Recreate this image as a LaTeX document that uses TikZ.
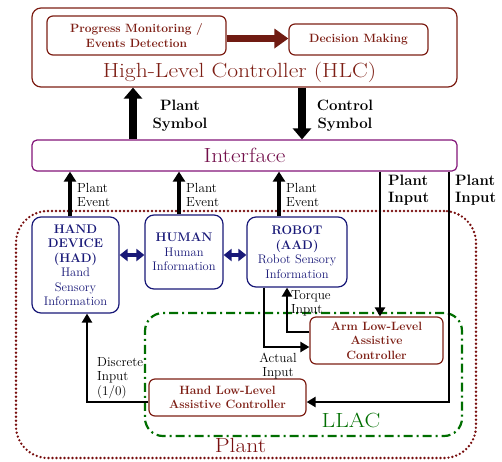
\documentclass[tikz,border=0pt]{standalone}
\usepackage{graphicx}
\usetikzlibrary{arrows.meta}
\definecolor{hlcred}{RGB}{125,30,20}
\definecolor{ifpurple}{RGB}{130,20,120}
\definecolor{iftext}{RGB}{115,15,75}
\definecolor{agentblue}{RGB}{25,25,120}
\definecolor{llacgreen}{RGB}{0,110,0}
\definecolor{plantred}{RGB}{120,15,15}
\newcommand{\widen}[1]{\scalebox{1.15}[1]{#1}}
\begin{document}
\begin{tikzpicture}[x=1pt,y=-1pt]
    \tikzset{ctrlbox/.style={draw=hlcred, line width=1.2pt, rounded corners=6pt, inner sep=0pt, text=hlcred, align=center, font=\fontsize{12}{14.5}\selectfont\bfseries}}
    \tikzset{agentbox/.style={draw=agentblue, line width=1.2pt, rounded corners=9pt, inner sep=0pt, text=agentblue, align=center, font=\fontsize{12.5}{14.5}\selectfont}}
    \tikzset{bigtext/.style={inner sep=0pt, font=\fontsize{20.5}{24}\selectfont}}
    \tikzset{smalllabel/.style={inner sep=0pt, align=left, font=\fontsize{13.2}{14.2}\selectfont}}
    \tikzset{boldlabel/.style={inner sep=0pt, align=center, font=\fontsize{15}{17.5}\selectfont\bfseries}}
    \useasboundingbox (0,0) rectangle (502,461);

    % controller and interface
    \node[ctrlbox, rounded corners=9pt, minimum width=425pt, minimum height=79pt] at (244.5,47.5) (hlc) {};
    \node[ctrlbox, minimum width=179pt, minimum height=39pt] at (136.5,35.5) (pm) {Progress Monitoring /\\Events Detection};
    \node[ctrlbox, minimum width=139pt, minimum height=31pt] at (358.5,39.5) (dm) {Decision Making};
    \node[bigtext, text=hlcred, anchor=base] at (239.5,77) (hlctitle) {\widen{High-Level Controller (HLC)}};
    \node[draw=ifpurple, line width=1.2pt, rounded corners=5pt, minimum width=425pt, minimum height=31pt, text=iftext, font=\fontsize{20.5}{24}\selectfont] at (244.5,155.5) (interface) {\widen{Interface}};

    % plant
    \node[draw=plantred, dash pattern=on 0pt off 4pt, line cap=round, line width=2.6pt, rounded corners=32pt, minimum width=460pt, minimum height=247pt] at (246,334.5) (plant) {};
    \node[bigtext, text=plantred, anchor=base] at (240.5,452) (planttext) {\widen{Plant}};
    \node[draw=llacgreen, dash pattern=on 9pt off 4pt on 2pt off 4pt, line width=2.2pt, rounded corners=18pt, minimum width=317pt, minimum height=123pt] at (303.5,374.5) (llac) {};
    \node[bigtext, text=llacgreen, anchor=base] at (351,427) (llactext) {\widen{LLAC}};

    \node[agentbox, minimum width=87pt, minimum height=96pt] at (75.5,265) (hand) {\textbf{HAND}\\\textbf{DEVICE}\\\textbf{(HAD)}\\Hand\\Sensory\\Information};
    \node[agentbox, minimum width=78pt, minimum height=74pt] at (184,252) (human) {\textbf{HUMAN}\\Human\\Information};
    \node[agentbox, minimum width=100pt, minimum height=70pt] at (297,252) (robot) {\textbf{ROBOT}\\\textbf{(AAD)}\\Robot Sensory\\Information};
    \node[ctrlbox, minimum width=133pt, minimum height=47pt] at (376.5,340.5) (arm) {Arm Low-Level\\Assistive\\Controller};
    \node[ctrlbox, minimum width=157pt, minimum height=37pt] at (227.5,397.5) (handll) {Hand Low-Level\\Assistive Controller};

    % labels
    \node[boldlabel] at (180,116) (psym) {Plant\\Symbol};
    \node[boldlabel] at (345,116) (csym) {Control\\Symbol};
    \node[boldlabel, align=left, anchor=west] at (388,190.3) (pin1) {Plant\\Input};
    \node[boldlabel, align=left, anchor=west] at (455,190.3) (pin2) {Plant\\Input};
    \node[smalllabel, anchor=west] at (77,195) (ev1) {Plant\\Event};
    \node[smalllabel, anchor=west] at (186,195) (ev2) {Plant\\Event};
    \node[smalllabel, anchor=west] at (286,195) (ev3) {Plant\\Event};
    \node[smalllabel, anchor=west] at (291,303) (torque) {Torque\\Input};
    \node[smalllabel, align=center] at (278,366) (actual) {Actual\\Input};
    \node[smalllabel, anchor=west] at (97,378) (discrete) {Discrete\\Input\\(1/0)};

    % connectors
    \path[hlcred!90!black, line width=7pt, -{Triangle[length=14pt, width=19pt]}] (pm.east |- 0,38.5) edge (dm.west |- 0,38.5);
    \path[line width=8pt, -{Triangle[length=11pt, width=18pt]}] (133,0 |- interface.north) edge (133,0 |- hlc.south);
    \path[line width=8pt, -{Triangle[length=11pt, width=18pt]}] (302,0 |- hlc.south) edge (302,0 |- interface.north);
    \path[line width=4.5pt, -{Triangle[length=10pt, width=12pt]}] (70,0 |- hand.north) edge (70,0 |- interface.south);
    \path[line width=4.5pt, -{Triangle[length=10pt, width=12pt]}] (179,0 |- human.north) edge (179,0 |- interface.south);
    \path[line width=4.5pt, -{Triangle[length=10pt, width=12pt]}] (279,0 |- robot.north) edge (279,0 |- interface.south);
    \path[agentblue, line width=4.5pt, {Triangle[length=8pt, width=12pt]}-{Triangle[length=8pt, width=12pt]}] (hand.east |- 0,255) edge (human.west |- 0,255);
    \path[agentblue, line width=4.5pt, {Triangle[length=8pt, width=12pt]}-{Triangle[length=8pt, width=12pt]}] (human.east |- 0,255) edge (robot.west |- 0,255);
    \draw[line width=2.6pt, -{Triangle[length=9pt, width=10pt]}] (380,0 |- interface.south) -- (380,0 |- arm.north);
    \draw[line width=2.6pt, -{Triangle[length=9pt, width=10pt]}] (449,0 |- interface.south) |- (handll.east |- 0,402);
    \draw[line width=2.6pt, -{Triangle[length=9pt, width=10pt]}] (264,0 |- robot.south) |- (arm.west |- 0,347);
    \draw[line width=2.6pt, -{Triangle[length=9pt, width=10pt]}] (arm.west |- 0,332) -| (287,0 |- robot.south);
    \draw[line width=2.6pt, -{Triangle[length=9pt, width=10pt]}] (handll.west |- 0,402) -| (87,0 |- hand.south);
\end{tikzpicture}
\end{document}
